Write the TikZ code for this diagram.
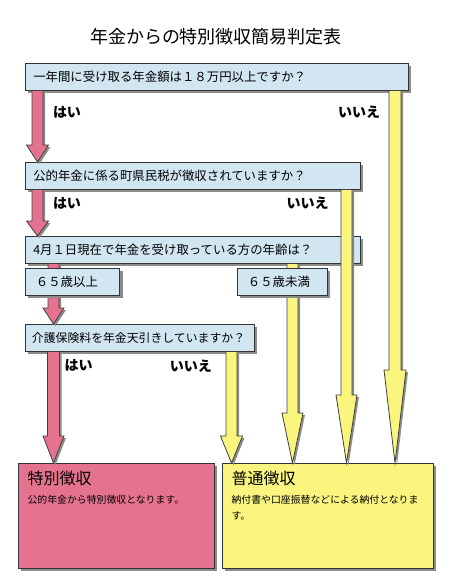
\documentclass[tikz,border=0pt]{standalone}
\usepackage{fontspec}
\newfontfamily\cjk{Noto Sans CJK JP}
\usepackage{tikz}
\usetikzlibrary{calc,shadows}
\definecolor{qblue}{HTML}{D1E6F1}
\definecolor{rosepink}{HTML}{E5738F}
\definecolor{paleyellow}{HTML}{F9F57F}
% #1 colour, #2 start, #3 tip, #4 half shaft, #5 half head, #6 head length
\newcommand{\blockarrow}[6]{%
  \path[fill=#1,draw=black!75,line width=.6pt,arrowshadow]
    ($(#2)+(-#4,0)$) -- ($(#2)+(#4,0)$) -- ($(#3)+(#4,-#6)$) -- ($(#3)+(#5,-#6)$)
    -- (#3) -- ($(#3)+(-#5,-#6)$) -- ($(#3)+(-#4,-#6)$) -- cycle;}

\begin{document}
\begin{tikzpicture}[x=0.75pt,y=-0.75pt,
  boxshadow/.style={drop shadow={shadow xshift=2.25pt,shadow yshift=-2.25pt,fill=black!45,opacity=1}},
  arrowshadow/.style={drop shadow={shadow xshift=1.5pt,shadow yshift=-1.5pt,fill=black!45,opacity=1}},
  qbox/.style={draw=black!80,fill=qblue,boxshadow,anchor=north west,inner xsep=6pt,inner ysep=0pt,
    minimum height=20.25pt,align=left,font=\cjk\fontsize{9.3}{11}\selectfont},
  resbox/.style={draw=black!80,boxshadow,anchor=north west,inner xsep=7pt,inner ysep=6pt},
  answer/.style={font=\cjk\bfseries\fontsize{10.5}{12}\selectfont}]
  \useasboundingbox (0,0) rectangle (450,587);
  \node[font=\cjk\fontsize{13.5}{16}\selectfont] (title) at (216,37) {年金からの特別徴収簡易判定表};

  \node[qbox,text width=275.25pt] (q1) at (25,63) {一年間に受け取る年金額は１８万円以上ですか？};
  \node[qbox,text width=239.25pt] (q2) at (25,162) {公的年金に係る町県民税が徴収されていますか？};
  \node[qbox,text width=239.25pt] (q3) at (25,236) {4月１日現在で年金を受け取っている方の年齢は？};
  \node[qbox,text width=161.75pt,inner xsep=5pt,font=\cjk\fontsize{8.9}{11}\selectfont] (q4) at (25,324)
    {介護保険料を年金天引きしていますか？};

  \node[resbox,fill=rosepink] (res1) at (18,463)
    {\parbox[t][66.75pt][t]{133pt}{\cjk{\fontsize{12}{14}\selectfont 特別徴収}\par\vspace{2pt}
     {\fontsize{7.4}{11}\selectfont 公的年金から特別徴収となります。}}};
  \node[resbox,fill=paleyellow] (res2) at (222,463)
    {\parbox[t][66.75pt][t]{144.25pt}{\cjk{\fontsize{12}{14}\selectfont 普通徴収}\par\vspace{2pt}
     {\fontsize{7.4}{11}\selectfont 納付書や口座振替などによる納付となりま\\す。}}};

  \coordinate (colA) at (37.5,0);  \coordinate (colB) at (53.5,0);
  \coordinate (colC) at (231.5,0); \coordinate (colD) at (292.5,0);
  \coordinate (colE) at (346.5,0); \coordinate (colF) at (395,0);

  \blockarrow{rosepink}{q1.south -| colA}{q2.north -| colA}{5.5}{11}{17}
  \blockarrow{paleyellow}{q1.south -| colF}{res2.north -| colF}{6}{11}{93}
  \blockarrow{rosepink}{q2.south -| colA}{q3.north -| colA}{5.5}{11}{15}
  \blockarrow{paleyellow}{q2.south -| colE}{res2.north -| colE}{5.5}{10.5}{68}
  \blockarrow{rosepink}{q3.south -| colB}{q4.north -| colB}{5.5}{10.5}{16}
  \blockarrow{paleyellow}{q3.south -| colD}{res2.north -| colD}{5.5}{10.5}{50}
  \blockarrow{rosepink}{q4.south -| colB}{res1.north -| colB}{6}{10.5}{27}
  \blockarrow{paleyellow}{q4.south -| colC}{res2.north -| colC}{5.5}{11}{27}

  \node[qbox,text width=54.75pt,inner xsep=8pt] (over65) at (25,268) {６５歳以上};
  \node[qbox,text width=51.5pt,inner xsep=8pt] (under65) at (237,268) {６５歳未満};

  \node[answer] (yes1) at (67,112) {はい};
  \node[answer] (no1) at (359,112) {いいえ};
  \node[answer] (yes2) at (67,203) {はい};
  \node[answer] (no2) at (307.5,203) {いいえ};
  \node[answer] (yes3) at (78.5,365) {はい};
  \node[answer] (no3) at (191,366) {いいえ};
\end{tikzpicture}
\end{document}
